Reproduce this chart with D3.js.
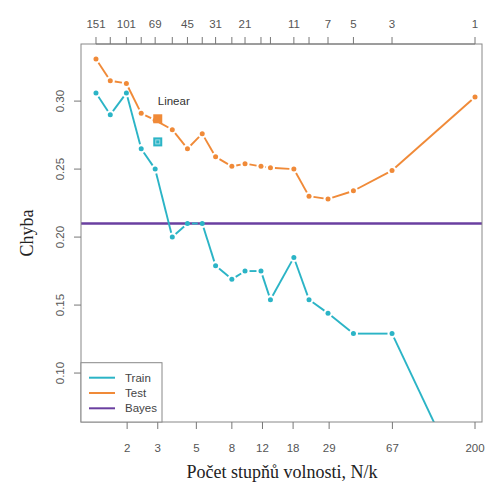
<!DOCTYPE html>
<html><head><meta charset="utf-8">
<script src="https://cdn.jsdelivr.net/npm/d3@7"></script>
<style>body{margin:0;background:#fff}svg{display:block}</style>
</head><body><div id="c"></div>
<script>
const N = 200;
const kValues = [151,125,101,83,69,55,45,37,31,25,21,17,15,11,9,7,5,3,1];
const trainErr = [0.306,0.290,0.306,0.265,0.250,0.200,0.210,0.210,0.179,0.169,0.175,0.175,0.154,0.185,0.154,0.144,0.129,0.129,0.000];
const testErr  = [0.331,0.315,0.313,0.291,0.286,0.279,0.265,0.276,0.259,0.252,0.254,0.252,0.251,0.250,0.230,0.228,0.234,0.249,0.303];
const bayesErr = 0.21;
const linearDf = 3;
const linearTrain = 0.270;
const linearTest = 0.287;
const topLabels = [151,101,69,45,31,21,11,7,5,3,1];
const bottomTicks = [2,3,5,8,12,18,29,67,200];
const yTicks = [0.10,0.15,0.20,0.25,0.30];
const legendItems = ["Train","Test","Bayes"];

const W=490,H=489;
const L=81,R=482,T=44,B=422;
const cTrain="#2bb4c6", cTest="#f08a38", cBayes="#6a3fa0";

const svg=d3.select("#c").append("svg").attr("width",W).attr("height",H);
const x=d3.scaleLog().domain([1.086,219.4]).range([L,R]);
const y=d3.scaleLinear().domain([0.064,0.342]).range([B,T]);

svg.append("defs").append("clipPath").attr("id","clip").append("rect")
  .attr("x",L).attr("y",T).attr("width",R-L).attr("height",B-T);

// Bayes line
svg.append("line").attr("x1",L).attr("x2",R).attr("y1",y(bayesErr)).attr("y2",y(bayesErr))
  .attr("stroke",cBayes).attr("stroke-width",2.6);

function series(vals,color){
  const pts=kValues.map((k,i)=>[x(N/k),y(vals[i])]);
  const g=svg.append("g").attr("clip-path","url(#clip)");
  const gap=4.5;
  for(let i=0;i<pts.length-1;i++){
    const [x1,y1]=pts[i],[x2,y2]=pts[i+1];
    const len=Math.hypot(x2-x1,y2-y1);
    if(len<=2*gap) continue;
    const ux=(x2-x1)/len,uy=(y2-y1)/len;
    g.append("line").attr("x1",x1+ux*gap).attr("y1",y1+uy*gap)
      .attr("x2",x2-ux*gap).attr("y2",y2-uy*gap)
      .attr("stroke",color).attr("stroke-width",1.9);
  }
  g.selectAll(null).data(pts).enter().append("circle")
    .attr("cx",d=>d[0]).attr("cy",d=>d[1]).attr("r",2.5).attr("fill",color);
}
series(testErr,cTest);
series(trainErr,cTrain);

// Linear squares
const sq=9;
svg.append("rect").attr("x",x(linearDf)-sq/2).attr("y",y(linearTest)-sq/2).attr("width",sq).attr("height",sq).attr("fill",cTest);
svg.append("rect").attr("x",x(linearDf)-sq/2).attr("y",y(linearTrain)-sq/2).attr("width",sq).attr("height",sq).attr("fill",cTrain);
svg.append("rect").attr("x",x(linearDf)-sq/2+2.5).attr("y",y(linearTrain)-sq/2+2.5).attr("width",sq-5).attr("height",sq-5)
  .attr("fill","none").attr("stroke","#9fdde5").attr("stroke-width",1);
svg.append("text").attr("x",x(linearDf)).attr("y",y(linearTest)-14).text("Linear")
  .attr("font-family","Liberation Sans, Arial, sans-serif").attr("font-size",11.5).attr("fill","#333");

// frame
svg.append("rect").attr("x",L).attr("y",T).attr("width",R-L).attr("height",B-T)
  .attr("fill","none").attr("stroke","#888").attr("stroke-width",1);

const tickCol="#777", labCol="#555", fnt="Liberation Sans, Arial, sans-serif";
// top axis
const topG=svg.append("g");
kValues.forEach(k=>{
  topG.append("line").attr("x1",x(N/k)).attr("x2",x(N/k)).attr("y1",T).attr("y2",T-7).attr("stroke",tickCol);
});
topG.append("line").attr("x1",x(N/kValues[0])).attr("x2",x(N/1)).attr("y1",T).attr("y2",T).attr("stroke",tickCol);
topLabels.forEach(k=>{
  topG.append("text").attr("x",x(N/k)).attr("y",28).attr("text-anchor","middle")
    .attr("font-family",fnt).attr("font-size",11.5).attr("fill",labCol).text(k);
});
// bottom axis
bottomTicks.forEach(v=>{
  svg.append("line").attr("x1",x(v)).attr("x2",x(v)).attr("y1",B).attr("y2",B+7).attr("stroke",tickCol);
  svg.append("text").attr("x",x(v)).attr("y",452).attr("text-anchor","middle")
    .attr("font-family",fnt).attr("font-size",11.5).attr("fill",labCol).text(v);
});
// left axis
yTicks.forEach(v=>{
  svg.append("line").attr("x1",L).attr("x2",L-7).attr("y1",y(v)).attr("y2",y(v)).attr("stroke",tickCol);
  svg.append("text").attr("transform",`translate(64,${y(v)}) rotate(-90)`).attr("text-anchor","middle")
    .attr("font-family",fnt).attr("font-size",11.5).attr("fill",labCol).text(v.toFixed(2));
});

// titles
svg.append("text").attr("x",282).attr("y",478).attr("text-anchor","middle")
  .attr("font-family","Liberation Serif, Times New Roman, serif").attr("font-size",18).attr("fill","#222")
  .text("Počet stupňů volnosti, N/k");
svg.append("text").attr("transform","translate(33,233) rotate(-90)").attr("text-anchor","middle")
  .attr("font-family","Liberation Serif, Times New Roman, serif").attr("font-size",18).attr("fill","#222")
  .text("Chyba");

// legend
const lg=svg.append("g");
lg.append("rect").attr("x",L).attr("y",362.7).attr("width",81).attr("height",B-362.7)
  .attr("fill","#fff").attr("stroke","#888");
const lcols=[cTrain,cTest,cBayes];
legendItems.forEach((t,i)=>{
  const yy=377.7+i*15.3;
  lg.append("line").attr("x1",89).attr("x2",115).attr("y1",yy).attr("y2",yy).attr("stroke",lcols[i]).attr("stroke-width",2);
  lg.append("text").attr("x",125).attr("y",yy+4).attr("font-family",fnt).attr("font-size",11.5).attr("fill","#444").text(t);
});
</script></body></html>
